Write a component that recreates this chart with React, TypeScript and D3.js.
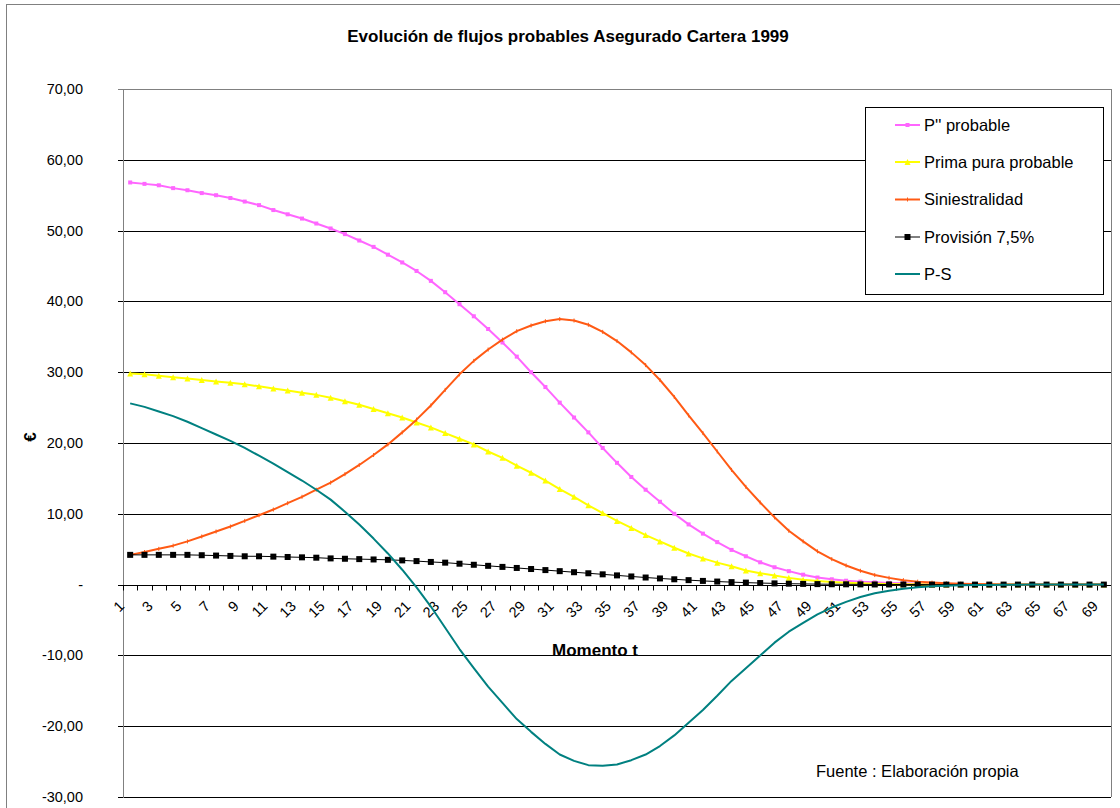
import React from "react";
import * as d3 from "d3";

const categories = d3.range(1, 70).map(String);

const pProbable = [
  56.8, 56.6, 56.4, 56.0, 55.7, 55.3, 55.0, 54.6, 54.1, 53.6, 52.9, 52.3, 51.7, 51.0, 50.3, 49.5, 48.6, 47.7, 46.6, 45.5,
  44.3, 42.9, 41.3, 39.6, 37.9, 36.1, 34.2, 32.2, 30.0, 27.9, 25.7, 23.6, 21.5, 19.3, 17.2, 15.2, 13.4, 11.7, 10.0, 8.5,
  7.2, 6.0, 4.9, 4.0, 3.15, 2.45, 1.9, 1.4, 1.0, 0.75, 0.55, 0.42, 0.32, 0.24, 0.18, 0.13, 0.09, 0.06, 0.04, 0.03,
  0.02, 0.01, 0.01, 0, 0, 0, 0, 0, 0,
];

const primaPura = [
  29.8, 29.7, 29.5, 29.3, 29.1, 28.9, 28.7, 28.5, 28.3, 28.0, 27.7, 27.4, 27.1, 26.8, 26.4, 25.9, 25.4, 24.8, 24.2, 23.6,
  22.9, 22.2, 21.4, 20.6, 19.8, 18.8, 17.9, 16.8, 15.8, 14.7, 13.5, 12.4, 11.2, 10.1, 9.0, 8.0, 7.0, 6.1, 5.2, 4.4,
  3.7, 3.1, 2.6, 2.0, 1.6, 1.3, 0.95, 0.7, 0.5, 0.36, 0.26, 0.19, 0.13, 0.09, 0.06, 0.04, 0.03, 0.02, 0.01, 0.01,
  0, 0, 0, 0, 0, 0, 0, 0, 0,
];

const siniestralidad = [
  4.2, 4.6, 5.05, 5.5, 6.1, 6.8, 7.5, 8.2, 9.0, 9.8, 10.6, 11.5, 12.4, 13.4, 14.4, 15.6, 16.9, 18.3, 19.8, 21.5,
  23.3, 25.3, 27.5, 29.7, 31.6, 33.2, 34.6, 35.8, 36.6, 37.2, 37.5, 37.3, 36.7, 35.7, 34.4, 32.8, 31.0, 28.9, 26.5, 23.9,
  21.4, 18.8, 16.2, 13.8, 11.6, 9.5, 7.6, 6.1, 4.7, 3.6, 2.7, 1.95, 1.35, 0.95, 0.63, 0.42, 0.28, 0.18, 0.11, 0.07,
  0.04, 0.02, 0.01, 0, 0, 0, 0, 0, 0,
];

const provision = [
  4.2, 4.2, 4.2, 4.2, 4.2, 4.15, 4.1, 4.05, 4.0, 4.0, 3.95, 3.9, 3.85, 3.8, 3.7, 3.65, 3.6, 3.55, 3.5, 3.42,
  3.32, 3.2, 3.1, 2.95, 2.8, 2.65, 2.5, 2.35, 2.2, 2.05, 1.9, 1.75, 1.6, 1.45, 1.3, 1.15, 1.0, 0.87, 0.75, 0.63,
  0.52, 0.43, 0.35, 0.28, 0.22, 0.17, 0.13, 0.1, 0.07, 0.05, 0.04, 0.03, 0.02, 0.02, 0.01, 0.01, 0, 0, 0, 0,
  0, 0, 0, 0, 0, 0, 0, 0, 0,
];

const pMenosS = [
  25.6, 25.1, 24.45, 23.8, 23.0, 22.1, 21.2, 20.3, 19.3, 18.2, 17.1, 15.9, 14.7, 13.4, 12.0, 10.3, 8.5, 6.5, 4.4, 2.1,
  -0.4, -3.1, -6.1, -9.1, -11.8, -14.4, -16.7, -19.0, -20.8, -22.5, -24.0, -24.9, -25.5, -25.6, -25.4, -24.8, -24.0, -22.8, -21.3, -19.5,
  -17.7, -15.7, -13.6, -11.8, -10.0, -8.2, -6.65, -5.4, -4.2, -3.24, -2.44, -1.76, -1.22, -0.86, -0.57, -0.38, -0.25, -0.16, -0.1, -0.06,
  -0.04, -0.02, -0.01, 0, 0, 0, 0, 0, 0,
];

const seriesNames = ["P'' probable", "Prima pura probable", "Siniestralidad", "Provisión 7,5%", "P-S"];
const yTickValues = [70, 60, 50, 40, 30, 20, 10, 0, -10, -20, -30];
const yTickLabels = ["70,00", "60,00", "50,00", "40,00", "30,00", "20,00", "10,00", "-", "-10,00", "-20,00", "-30,00"];

const title = "Evolución de flujos probables Asegurado Cartera 1999";
const xTitle = "Momento t";
const yTitle = "€";
const source = "Fuente : Elaboración propia";

const W = 1120;
const H = 808;
const plot = { left: 123, right: 1111, top: 89, bottom: 797 };
const font = "'Liberation Sans', Arial, sans-serif";

const series = [
  { name: seriesNames[0], values: pProbable, color: "#FF66FF", width: 2, marker: "square", size: 4 },
  { name: seriesNames[1], values: primaPura, color: "#FFFF00", width: 2, marker: "triangle", size: 6 },
  { name: seriesNames[2], values: siniestralidad, color: "#FF5A14", width: 2, marker: "tick", size: 4 },
  { name: seriesNames[3], values: provision, color: "#000000", width: 1, marker: "bigsquare", size: 6 },
  { name: seriesNames[4], values: pMenosS, color: "#008080", width: 2, marker: "none", size: 0 },
];

const Marker = ({ type, x, y, color, size }: { type: string; x: number; y: number; color: string; size: number }) => {
  if (type === "square" || type === "bigsquare")
    return <rect x={x - size / 2} y={y - size / 2} width={size} height={size} fill={color} />;
  if (type === "triangle") {
    const p = d3.path();
    p.moveTo(x, y - size / 2);
    p.lineTo(x + size / 2, y + size / 2);
    p.lineTo(x - size / 2, y + size / 2);
    p.closePath();
    return <path d={p.toString()} fill={color} />;
  }
  if (type === "tick") return <line x1={x} x2={x} y1={y - size / 2} y2={y + size / 2} stroke={color} strokeWidth={1} />;
  return null;
};

export default function App() {
  const xb = d3.scaleBand<string>().domain(categories).range([plot.left, plot.right]);
  const bw = xb.bandwidth();
  const cx = (c: string) => (xb(c) as number) + bw / 2;
  const y = d3.scaleLinear().domain([-30, 70]).range([plot.bottom, plot.top]);
  const y0 = Math.round(y(0)) + 0.5;

  const line = d3
    .line<number>()
    .x((_, i) => cx(categories[i]))
    .y((d) => y(d));

  const legendX = 865;
  const legendY = 107;
  const legendRows = [125, 162, 199.5, 237, 274];

  return (
    <svg width={W} height={H} style={{ position: "absolute", left: 0, top: 0, background: "#fff" }} fontFamily={font}>
      <rect x={6.5} y={4.5} width={W} height={H} fill="#fff" stroke="#808080" />
      <text x={568} y={42} textAnchor="middle" fontWeight="bold" fontSize={17}>
        {title}
      </text>

      {/* grid */}
      {yTickValues.map((v) => (
        <line
          key={"g" + v}
          x1={plot.left - 5}
          x2={plot.right}
          y1={Math.round(y(v)) + 0.5}
          y2={Math.round(y(v)) + 0.5}
          stroke={v === 70 ? "#808080" : "#000"}
          strokeWidth={1}
        />
      ))}
      <line x1={plot.right + 0.5} x2={plot.right + 0.5} y1={plot.top} y2={plot.bottom} stroke="#808080" />
      <line x1={plot.left + 0.5} x2={plot.left + 0.5} y1={plot.top} y2={plot.bottom + 1} stroke="#808080" />

      {/* y labels */}
      {yTickValues.map((v, i) => (
        <text key={"yl" + v} x={83} y={y(v)} dy="0.35em" textAnchor="end" fontSize={14.5}>
          {yTickLabels[i]}
        </text>
      ))}
      <text transform={`translate(36,437) rotate(-90)`} textAnchor="middle" fontWeight="bold" fontSize={17}>
        {yTitle}
      </text>

      {/* x axis */}
      <line x1={plot.left} x2={plot.right} y1={y0} y2={y0} stroke="#000" />
      {categories.map((c) => (
        <line key={"t" + c} x1={Math.round(xb(c) as number) + 0.5} x2={Math.round(xb(c) as number) + 0.5} y1={y0} y2={y0 + 5} stroke="#000" />
      ))}
      {categories
        .filter((_, i) => i % 2 === 0)
        .map((c) => (
          <text key={"xl" + c} transform={`translate(${cx(c) - 5},${607}) rotate(-45)`} textAnchor="end" fontSize={14.5}>
            {c}
          </text>
        ))}
      <text x={595} y={656} textAnchor="middle" fontWeight="bold" fontSize={17}>
        {xTitle}
      </text>

      {/* series */}
      {series.map((s) => (
        <g key={s.name}>
          <path d={line(s.values) as string} fill="none" stroke={s.color} strokeWidth={s.width} strokeLinejoin="round" />
          {s.values.map((v, i) => (
            <Marker key={i} type={s.marker} x={cx(categories[i])} y={y(v)} color={s.color} size={s.size} />
          ))}
        </g>
      ))}

      {/* legend */}
      <rect x={legendX + 0.5} y={legendY + 0.5} width={238} height={187} fill="#fff" stroke="#000" />
      {series.map((s, i) => (
        <g key={"lg" + s.name}>
          <line x1={895} x2={920} y1={legendRows[i]} y2={legendRows[i]} stroke={s.color} strokeWidth={s.width} />
          <Marker type={s.marker} x={907.5} y={legendRows[i]} color={s.color} size={s.size} />
          <text x={924} y={legendRows[i]} dy="0.35em" fontSize={16.5}>
            {s.name}
          </text>
        </g>
      ))}

      <text x={816} y={777} fontSize={16.5}>
        {source}
      </text>
    </svg>
  );
}
